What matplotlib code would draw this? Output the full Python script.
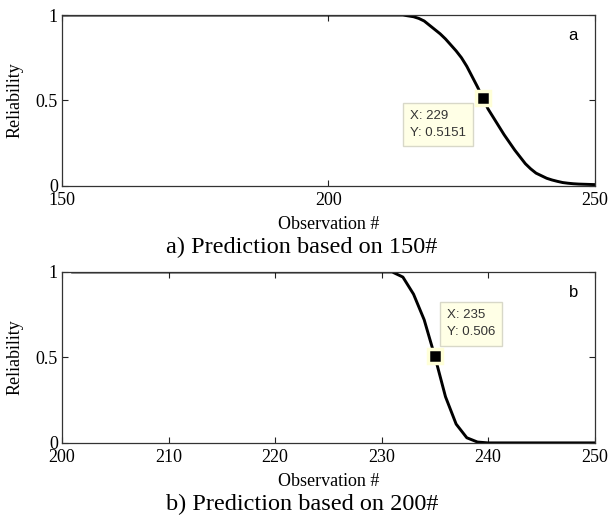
import matplotlib.pyplot as plt

plt.rcParams['font.family'] = ['Liberation Serif', 'DejaVu Serif']

# panel a: prediction based on observation 150
obs_a = [150, 214, 215, 216, 217, 218, 219, 220, 221, 222, 223, 224, 225, 226,
         227, 228, 229, 230, 231, 232, 233, 234, 235, 236, 237, 238, 239, 240,
         241, 242, 243, 244, 245, 246, 247, 248, 249, 250]
rel_a = [1.0, 1.0, 0.995, 0.99, 0.98, 0.965, 0.94, 0.915, 0.89, 0.86, 0.825, 0.79,
         0.75, 0.70, 0.64, 0.58, 0.5151, 0.45, 0.40, 0.35, 0.30, 0.255, 0.21,
         0.17, 0.13, 0.10, 0.075, 0.06, 0.045, 0.035, 0.027, 0.02, 0.016, 0.013,
         0.011, 0.01, 0.009, 0.008]
tip_a = (229, 0.5151)

# panel b: prediction based on observation 200
obs_b = [201, 231, 232, 233, 234, 235, 236, 237, 238, 239, 240, 250]
rel_b = [1.0, 1.0, 0.97, 0.87, 0.72, 0.506, 0.27, 0.11, 0.03, 0.005, 0.0, 0.0]
tip_b = (235, 0.506)

xticks_a = [150, 200, 250]
xticks_b = [200, 210, 220, 230, 240, 250]
yticks = [0, 0.5, 1]
yticklabels = ['0', '0.5', '1']

fig = plt.figure(figsize=(6.08, 5.18), dpi=100)
ax1 = fig.add_axes([0.102, 0.641, 0.876, 0.330])
ax2 = fig.add_axes([0.102, 0.145, 0.876, 0.330])

panels = [
    (ax1, obs_a, rel_a, tip_a, xticks_a, (150, 250), 'a', (-73, -12), '%.4f',
     'a) Prediction based on 150#'),
    (ax2, obs_b, rel_b, tip_b, xticks_b, (200, 250), 'b', (12, 47), '%.3f',
     'b) Prediction based on 200#'),
]

sans = ['Liberation Sans', 'DejaVu Sans']

for ax, xs, ys, tip, xt, xl, tag, off, fmt, caption in panels:
    ax.plot(xs, ys, color='black', lw=2.1)
    ax.plot([tip[0]], [tip[1]], marker='s', ms=9.5, color='black',
            mec='#ffffd8', mew=2.5, zorder=5)
    ax.annotate('X: %d\nY: %s' % (tip[0], (fmt % tip[1]).rstrip('0')),
                xy=tip, xytext=off, textcoords='offset pixels',
                ha='left', va='top', fontsize=9.5, color='#333333',
                family=sans, linespacing=1.55,
                bbox=dict(boxstyle='square,pad=0.55', fc='#ffffe6',
                          ec='#d8d8c8', lw=1))
    ax.text(0.96, 0.88, tag, transform=ax.transAxes, fontsize=12,
            family=sans, ha='center', va='center')
    ax.set_xlim(xl)
    ax.set_ylim(0, 1)
    ax.set_xticks(xt)
    ax.set_yticks(yticks)
    ax.set_yticklabels(yticklabels)
    ax.tick_params(direction='in', length=4.5, top=True, right=True,
                   labelsize=13, color='#222222')
    ax.tick_params(axis='x', pad=4.5)
    ax.tick_params(axis='y', pad=3)
    for s in ax.spines.values():
        s.set_color('#333333')
        s.set_linewidth(0.9)
    ax.set_xlabel('Observation #', fontsize=13, labelpad=5)
    ax.set_ylabel('Reliability', fontsize=13, labelpad=9)
    # caption sits centred on the figure, not the axes
    bx = ax.get_position()
    fig.text(0.497, bx.y0 - 0.118, caption, ha='center', va='center',
             fontsize=17.5)

fig.savefig('out.png', dpi=100)
